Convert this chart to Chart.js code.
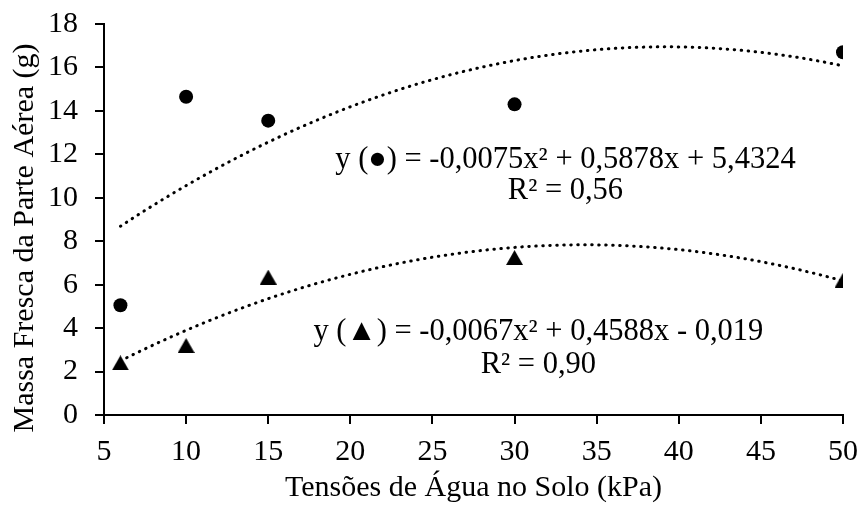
<!DOCTYPE html>
<html>
<head>
<meta charset="utf-8">
<script src="https://cdn.jsdelivr.net/npm/chart.js@4/dist/chart.umd.min.js"></script>
<style>
  html, body { margin: 0; padding: 0; background: #fff; }
  #wrap { width: 862px; height: 511px; }
</style>
</head>
<body>
<div id="wrap"><canvas id="chart" width="862" height="511"></canvas></div>
<script>
// Soil water tension (kPa) and fresh shoot mass (g)
const tensions = [6, 10, 15, 30, 50];
const massCircle = [5.05, 14.65, 13.55, 14.3, 16.7];
const massTriangle = [2.4, 3.2, 6.35, 7.25, 6.2];

// Quadratic fits: [a, b, c] for y = a·x² + b·x + c, and their R²
const fitCircle = [-0.0075, 0.5878, 5.4324];
const fitTriangle = [-0.0067, 0.4588, -0.019];
const r2Values = [0.56, 0.90];

const xTitle = 'Tensões de Água no Solo (kPa)';
const yTitle = 'Massa Fresca da Parte Aérea (g)';

const FONT = "'Liberation Serif', 'Times New Roman', serif";

function toPoints(xs, ys) { return xs.map((x, i) => ({ x, y: ys[i] })); }

// Trend curve over the measured tension range, from the fitted coefficients
function trend(coef) {
  const pts = [];
  const lo = tensions[0], hi = tensions[tensions.length - 1];
  for (let x = lo; x <= hi + 1e-9; x += 0.5) {
    pts.push({ x, y: coef[0] * x * x + coef[1] * x + coef[2] });
  }
  return pts;
}

function num(v, digits) {
  const s = digits === undefined ? String(Math.abs(v)) : Math.abs(v).toFixed(digits);
  return s.replace('.', ',');
}
function equation(sym, c) {
  return 'y (' + sym + ') = ' + (c[0] < 0 ? '-' : '') + num(c[0]) + 'x² ' +
    (c[1] < 0 ? '- ' : '+ ') + num(c[1]) + 'x ' +
    (c[2] < 0 ? '- ' : '+ ') + num(c[2]);
}

// Filled triangle marker, centred on its bounding box
const triMarker = document.createElement('canvas');
triMarker.width = 17; triMarker.height = 15;
(function () {
  const g = triMarker.getContext('2d');
  g.fillStyle = '#000';
  g.beginPath();
  g.moveTo(0, 15); g.lineTo(8.5, 0); g.lineTo(17, 15); g.closePath();
  g.fill();
})();

const textPlugin = {
  id: 'chartText',
  afterDraw(chart, args, opts) {
    const { ctx, scales: { x, y }, chartArea } = chart;
    ctx.save();
    ctx.fillStyle = '#000';
    ctx.textBaseline = 'alphabetic';
    ctx.textAlign = 'center';
    ctx.font = opts.noteSize + 'px ' + FONT;
    opts.notes.forEach(n => {
      ctx.fillText(n.text, x.getPixelForValue(n.x), y.getPixelForValue(n.y));
    });
    // axis titles
    ctx.font = opts.titleSize + 'px ' + FONT;
    ctx.fillText(xTitle, (chartArea.left + chartArea.right) / 2, opts.xTitleBaseline);
    ctx.translate(opts.yTitleBaselineX, opts.yTitleCenterY);
    ctx.rotate(-Math.PI / 2);
    ctx.fillText(yTitle, 0, 0);
    ctx.restore();
  }
};

const tickFont = { family: FONT, size: 30 };

new Chart(document.getElementById('chart'), {
  type: 'scatter',
  data: {
    datasets: [
      {
        data: trend(fitCircle),
        showLine: true, pointRadius: 0, borderColor: '#000', borderWidth: 3,
        borderDash: [0.5, 6.5], borderCapStyle: 'round', fill: false, order: 2
      },
      {
        data: trend(fitTriangle),
        showLine: true, pointRadius: 0, borderColor: '#000', borderWidth: 3,
        borderDash: [0.5, 6.5], borderCapStyle: 'round', fill: false, order: 2
      },
      {
        data: toPoints(tensions, massCircle),
        pointStyle: 'circle', pointRadius: 7, backgroundColor: '#000',
        borderWidth: 0, order: 1
      },
      {
        data: toPoints(tensions, massTriangle),
        pointStyle: triMarker, pointRadius: 8, backgroundColor: '#000',
        borderWidth: 0, order: 1
      }
    ]
  },
  options: {
    responsive: false,
    animation: false,
    devicePixelRatio: 1,
    layout: { padding: { left: 0, top: 24, right: 19, bottom: 0 } },
    plugins: {
      legend: { display: false },
      tooltip: { enabled: false },
      chartText: {
        noteSize: 30.5,
        titleSize: 30,
        xTitleBaseline: 496,
        yTitleBaselineX: 33,
        yTitleCenterY: 238,
        notes: [
          { text: equation('●', fitCircle), x: 33.1, y: 11.35 },
          { text: 'R² = ' + num(r2Values[0], 2), x: 33.1, y: 9.95 },
          { text: equation('▲', fitTriangle), x: 31.45, y: 3.45 },
          { text: 'R² = ' + num(r2Values[1], 2), x: 31.45, y: 1.93 }
        ]
      }
    },
    scales: {
      x: {
        type: 'linear', min: 5, max: 50,
        ticks: { stepSize: 5, font: tickFont, color: '#000', padding: 10, maxRotation: 0 },
        grid: { drawOnChartArea: false, drawTicks: true, tickLength: 9, color: '#000', lineWidth: 2 },
        border: { display: true, color: '#000', width: 2 },
        afterFit(s) { s.height = 96; s.paddingLeft = 0; s.paddingRight = 0; }
      },
      y: {
        type: 'linear', min: 0, max: 18,
        ticks: { stepSize: 2, font: tickFont, color: '#000', padding: 17 },
        grid: { drawOnChartArea: false, drawTicks: true, tickLength: 9, color: '#000', lineWidth: 2 },
        border: { display: true, color: '#000', width: 2 },
        afterFit(s) { s.width = 104; s.paddingTop = 0; s.paddingBottom = 0; }
      }
    }
  },
  plugins: [textPlugin]
});
</script>
</body>
</html>
